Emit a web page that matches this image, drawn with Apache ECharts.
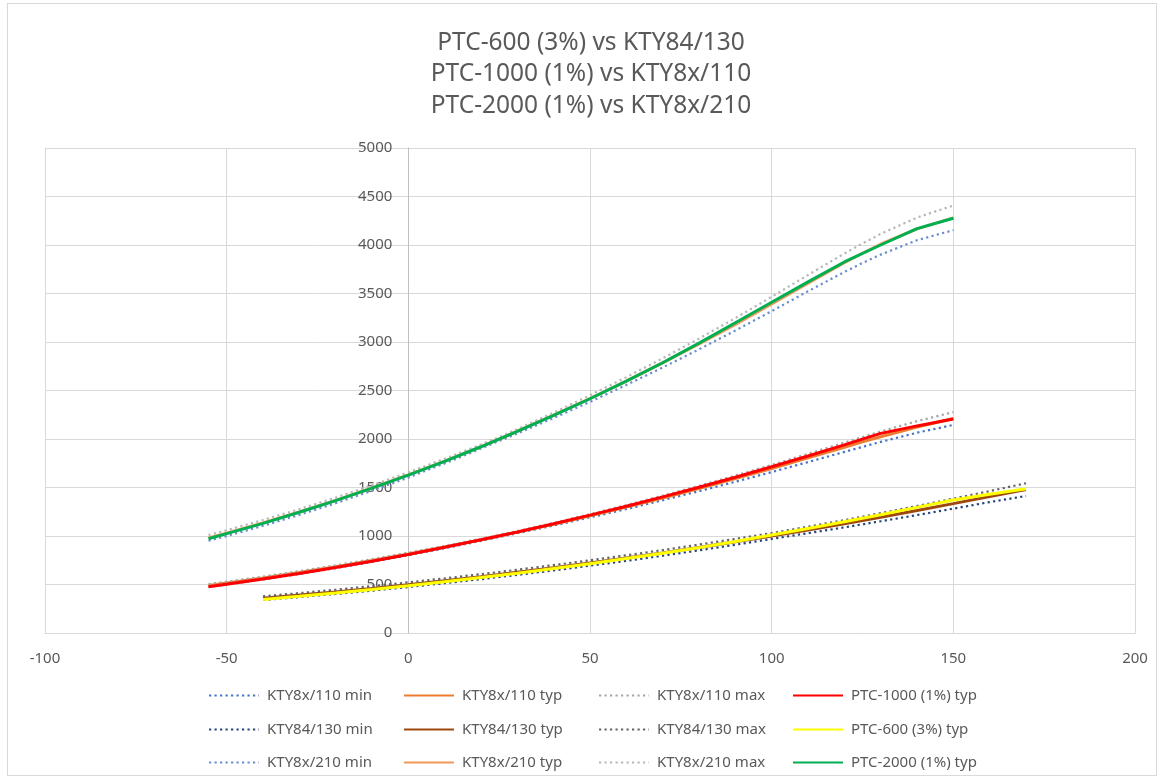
<!DOCTYPE html>
<html>
<head>
<meta charset="utf-8">
<script src="https://cdn.jsdelivr.net/npm/echarts@6/dist/echarts.min.js"></script>
<style>
html,body{margin:0;padding:0;background:#fff;}
#frame{position:absolute;left:7px;top:3px;width:1150px;height:773px;border:1px solid #d9d9d9;box-sizing:border-box;}
#chart{position:absolute;left:0;top:0;width:1165px;height:780px;}
</style>
</head>
<body>
<div id="frame"></div>
<div id="chart"></div>
<script>
// ---- data ----
const titleLines = ["PTC-600 (3%) vs KTY84/130", "PTC-1000 (1%) vs KTY8x/110", "PTC-2000 (1%) vs KTY8x/210"];
const xTicks = [-100, -50, 0, 50, 100, 150, 200];
const yTicks = [0, 500, 1000, 1500, 2000, 2500, 3000, 3500, 4000, 4500, 5000];

const tempKTY8x = [-55, -50, -40, -30, -20, -10, 0, 10, 20, 25, 30, 40, 50, 60, 70, 80, 90, 100, 110, 120, 125, 130, 140, 150];
const kty110Min = [475, 500, 552, 609, 669, 733, 802, 874, 950, 990, 1029, 1108, 1192, 1278, 1369, 1462, 1559, 1659, 1762, 1867, 1919, 1970, 2065, 2145];
const kty110Typ = [490, 515, 567, 624, 684, 747, 815, 886, 961, 1000, 1040, 1122, 1209, 1299, 1392, 1490, 1591, 1696, 1805, 1915, 1970, 2023, 2124, 2211];
const kty110Max = [505, 530, 582, 638, 698, 761, 828, 898, 972, 1010, 1051, 1136, 1225, 1319, 1416, 1518, 1623, 1733, 1847, 1963, 2020, 2077, 2184, 2277];
const kty210Min = [951, 1000, 1105, 1218, 1338, 1467, 1603, 1748, 1901, 1980, 2057, 2217, 2383, 2557, 2737, 2924, 3118, 3318, 3523, 3722, 3815, 3901, 4049, 4153];
const kty210Typ = [980, 1030, 1135, 1247, 1367, 1495, 1630, 1772, 1922, 2000, 2080, 2245, 2417, 2597, 2785, 2980, 3182, 3392, 3607, 3817, 3915, 4008, 4166, 4280];
const kty210Max = [1009, 1059, 1165, 1277, 1396, 1523, 1656, 1797, 1944, 2020, 2102, 2272, 2451, 2637, 2832, 3035, 3246, 3466, 3691, 3912, 4016, 4114, 4283, 4407];

const tempKTY84 = [-40, -30, -20, -10, 0, 10, 20, 25, 30, 40, 50, 60, 70, 80, 90, 100, 110, 120, 130, 140, 150, 160, 170];
const kty84Min = [340, 370, 403, 437, 474, 514, 555, 577, 599, 645, 694, 744, 797, 852, 910, 970, 1029, 1089, 1152, 1216, 1282, 1350, 1412];
const kty84Typ = [359, 391, 424, 460, 498, 538, 581, 603, 626, 672, 722, 773, 826, 882, 940, 1000, 1062, 1127, 1194, 1262, 1334, 1407, 1478];
const kty84Max = [378, 411, 446, 483, 522, 563, 607, 629, 652, 700, 750, 801, 855, 912, 970, 1030, 1096, 1164, 1235, 1309, 1385, 1463, 1544];

const tempPTC1000 = [-55, -50, -40, -30, -20, -10, 0, 10, 20, 30, 40, 50, 60, 70, 80, 90, 100, 110, 120, 130, 140, 150];
const ptc1000Typ = [476, 503, 557, 614, 675, 740, 810, 884, 961, 1042, 1126, 1215, 1307, 1403, 1503, 1606, 1714, 1825, 1940, 2058, 2135, 2206];

const tempPTC600 = [-40, -30, -20, -10, 0, 10, 20, 30, 40, 50, 60, 70, 80, 90, 100, 110, 120, 130, 140, 150, 160, 170];
const ptc600Typ = [345, 378, 413, 449, 487, 528, 571, 616, 664, 714, 767, 822, 880, 943, 1010, 1077, 1147, 1220, 1295, 1372, 1430, 1487];

const tempPTC2000 = [-55, -50, -40, -30, -20, -10, 0, 10, 20, 30, 40, 50, 60, 70, 80, 90, 100, 110, 120, 130, 140, 150];
const ptc2000Typ = [972, 1025, 1130, 1245, 1365, 1493, 1628, 1770, 1920, 2078, 2243, 2415, 2597, 2786, 2988, 3198, 3410, 3620, 3825, 4000, 4169, 4276];

// ---- series definitions (legend order) ----
const zip = (xs, ys) => xs.map((x, i) => [x, ys[i]]);
const DOT = [2.2, 3.3];
const seriesDefs = [
  {name: "KTY8x/110 min", x: tempKTY8x, y: kty110Min, color: "#4472C4", dotted: true},
  {name: "KTY8x/110 typ", x: tempKTY8x, y: kty110Typ, color: "#ED7D31", dotted: false},
  {name: "KTY8x/110 max", x: tempKTY8x, y: kty110Max, color: "#A5A5A5", dotted: true},
  {name: "PTC-1000 (1%) typ", x: tempPTC1000, y: ptc1000Typ, color: "#FF0000", dotted: false},
  {name: "KTY84/130 min", x: tempKTY84, y: kty84Min, color: "#264478", dotted: true},
  {name: "KTY84/130 typ", x: tempKTY84, y: kty84Typ, color: "#9E480E", dotted: false},
  {name: "KTY84/130 max", x: tempKTY84, y: kty84Max, color: "#636363", dotted: true},
  {name: "PTC-600 (3%) typ", x: tempPTC600, y: ptc600Typ, color: "#FFFF00", dotted: false},
  {name: "KTY8x/210 min", x: tempKTY8x, y: kty210Min, color: "#698ED0", dotted: true},
  {name: "KTY8x/210 typ", x: tempKTY8x, y: kty210Typ, color: "#F1975A", dotted: false},
  {name: "KTY8x/210 max", x: tempKTY8x, y: kty210Max, color: "#B7B7B7", dotted: true},
  {name: "PTC-2000 (1%) typ", x: tempPTC2000, y: ptc2000Typ, color: "#00B050", dotted: false}
];

const FONT = "'Noto Sans', 'Open Sans', sans-serif";
const TXT = "#595959";

const series = seriesDefs.map(d => ({
  name: d.name,
  type: "line",
  data: zip(d.x, d.y),
  symbol: "none",
  showSymbol: false,
  smooth: false,
  color: d.color,
  lineStyle: d.dotted ? {color: d.color, width: 2.2, type: DOT, cap: "butt"} : {color: d.color, width: 3},
  emphasis: {disabled: true},
  animation: false
}));

const colX = [208, 403, 598, 792];
const rowY = [688, 722, 755];
const legends = seriesDefs.map((d, i) => ({
  data: [{name: d.name}],
  left: colX[i % 4],
  top: rowY[Math.floor(i / 4)],
  padding: 0,
  itemWidth: 50,
  itemHeight: 14,
  itemGap: 0,
  selectedMode: false,
  itemStyle: {opacity: 0},
  textStyle: {color: TXT, fontSize: 15, fontFamily: FONT, padding: [0, 0, 0, 3]}
}));

// plot geometry
const GRID_L = 45, GRID_R = 30, GRID_T = 148, GRID_B = 147;
const plotW = 1165 - GRID_L - GRID_R;
const yAxisShift = plotW * (0 - xTicks[0]) / (xTicks[xTicks.length - 1] - xTicks[0]);

const option = {
  backgroundColor: "transparent",
  animation: false,
  title: {
    text: titleLines.join("\n"),
    left: 591,
    textAlign: "center",
    top: 27,
    padding: 0,
    textStyle: {color: TXT, fontSize: 24.5, fontWeight: "normal", fontFamily: FONT, lineHeight: 31.5}
  },
  legend: legends,
  grid: {left: GRID_L, right: GRID_R, top: GRID_T, bottom: GRID_B, containLabel: false, outerBoundsMode: "none"},
  xAxis: {
    type: "value",
    min: xTicks[0],
    max: xTicks[xTicks.length - 1],
    interval: xTicks[1] - xTicks[0],
    axisLine: {show: true, onZero: false, lineStyle: {color: "#bfbfbf", width: 1}},
    axisTick: {show: false},
    axisLabel: {color: TXT, fontSize: 15, fontFamily: FONT, margin: 18, formatter: v => String(v)},
    splitLine: {show: true, lineStyle: {color: "#d9d9d9", width: 1}}
  },
  yAxis: {
    type: "value",
    position: "left",
    offset: -yAxisShift,
    z: 3,
    min: yTicks[0],
    max: yTicks[yTicks.length - 1],
    interval: yTicks[1] - yTicks[0],
    axisLine: {show: true, onZero: false, lineStyle: {color: "#bfbfbf", width: 1}},
    axisTick: {show: false},
    axisLabel: {color: TXT, fontSize: 15, fontFamily: FONT, margin: 16, formatter: v => String(v)},
    splitLine: {show: true, lineStyle: {color: "#d9d9d9", width: 1}}
  },
  series: series
};

const chart = echarts.init(document.getElementById("chart"), null, {renderer: "canvas"});
chart.setOption(option);
</script>
</body>
</html>
